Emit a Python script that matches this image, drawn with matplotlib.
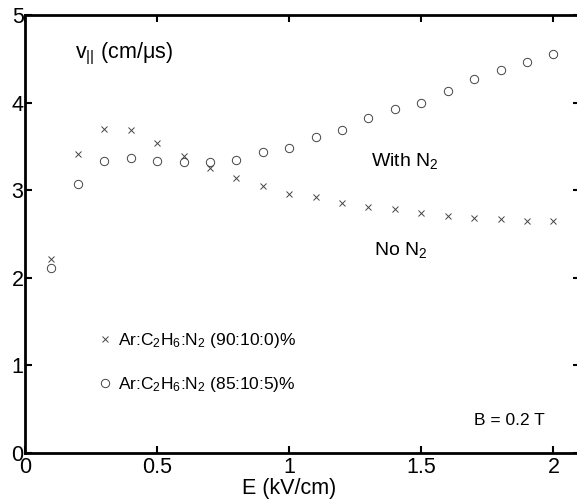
import numpy as np
import matplotlib
matplotlib.use('Agg')
import matplotlib.pyplot as plt
from matplotlib.lines import Line2D

plt.rcParams['font.family'] = ['Liberation Sans', 'DejaVu Sans']
plt.rcParams['mathtext.fontset'] = 'custom'
plt.rcParams['mathtext.rm'] = 'Liberation Sans'
plt.rcParams['mathtext.it'] = 'Liberation Sans'

###### data ######
E_field = [0.1, 0.2, 0.3, 0.4, 0.5, 0.6, 0.7, 0.8, 0.9, 1.0,
           1.1, 1.2, 1.3, 1.4, 1.5, 1.6, 1.7, 1.8, 1.9, 2.0]
v_no_n2 = [2.21, 3.41, 3.70, 3.69, 3.54, 3.39, 3.25, 3.14, 3.05, 2.96,
           2.92, 2.85, 2.81, 2.78, 2.74, 2.71, 2.68, 2.67, 2.65, 2.65]
v_with_n2 = [2.11, 3.07, 3.33, 3.37, 3.33, 3.32, 3.32, 3.34, 3.44, 3.48,
             3.61, 3.69, 3.82, 3.93, 3.99, 4.13, 4.27, 4.37, 4.46, 4.55]
x_ticks = [0, 0.5, 1, 1.5, 2]
x_ticklabels = ['0', '0.5', '1', '1.5', '2']
y_ticks = [0, 1, 2, 3, 4, 5]
label_no = r'Ar:C$_2$H$_6$:N$_2$ (90:10:0)%'
label_with = r'Ar:C$_2$H$_6$:N$_2$ (85:10:5)%'

mk_col = '#444444'

fig = plt.figure(figsize=(5.77, 5.0), dpi=100)
ax = fig.add_axes([0.0433, 0.094, 1.005 - 0.0433, 0.97 - 0.094])

ax.plot(E_field, v_no_n2, linestyle='none', marker='x', ms=4, mew=0.7, color=mk_col)
ax.plot(E_field, v_with_n2, linestyle='none', marker='o', ms=6, mew=0.7,
        mfc='none', mec=mk_col)

ax.set_xlim(0, 2.1)
ax.set_ylim(0, 5)
ax.set_xticks(x_ticks)
ax.set_xticklabels(x_ticklabels)
ax.set_yticks(y_ticks)
ax.tick_params(direction='in', top=True, right=True, length=5, width=1.5,
               labelsize=15.5)
ax.tick_params(axis='x', pad=3)
ax.tick_params(axis='y', pad=1)
for s in ax.spines.values():
    s.set_linewidth(2)

ax.set_xlabel('E (kV/cm)', fontsize=15.5, labelpad=0)
ax.xaxis.set_label_coords(1.0 / 2.1, -0.058)

ax.text(0.19, 4.5, 'v$_{||}$ (cm/μs)', fontsize=15.5)
ax.text(1.31, 3.28, 'With N$_2$', fontsize=14)
ax.text(1.32, 2.26, 'No N$_2$', fontsize=14)
ax.text(1.70, 0.32, 'B = 0.2 T', fontsize=12.5)

handles = [Line2D([], [], linestyle='none', marker='x', ms=4, mew=0.7, color=mk_col),
           Line2D([], [], linestyle='none', marker='o', ms=6, mew=0.7,
                  mfc='none', mec=mk_col)]
ax.legend(handles, [label_no, label_with], loc='upper left',
          bbox_to_anchor=(0.123, 0.295), frameon=False, fontsize=12.5,
          handlelength=0.5, handletextpad=0.5, labelspacing=1.45,
          borderaxespad=0)

plt.savefig('out.png', dpi=100)
